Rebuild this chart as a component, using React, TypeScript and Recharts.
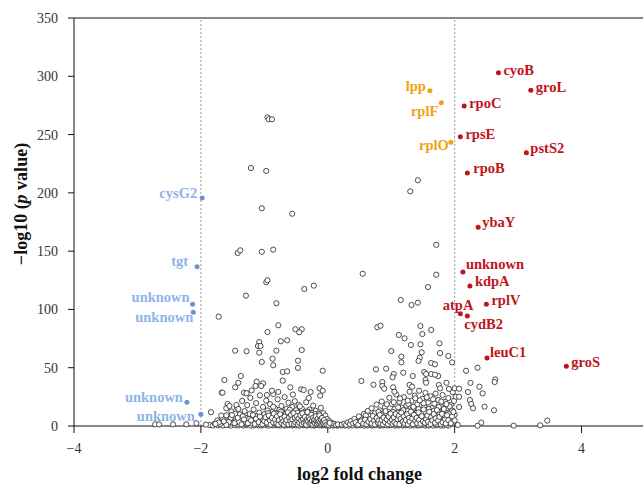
import { ScatterChart, Scatter, XAxis, YAxis, ReferenceLine } from "recharts";

const FONT = "'Liberation Serif', 'DejaVu Serif', serif";

// labelled genes
const upGenes = ["cyoB", "groL", "rpoC", "rpsE", "pstS2", "rpoB", "ybaY", "unknown", "kdpA", "rplV", "atpA", "cydB2", "leuC1", "groS"];
const upX = [2.69, 3.2, 2.15, 2.09, 3.13, 2.2, 2.37, 2.13, 2.24, 2.5, 2.09, 2.2, 2.51, 3.76];
const upY = [303.1, 288, 274.5, 248.2, 234.5, 217, 170.5, 132.1, 120.1, 104.4, 96.3, 94.4, 58.3, 51.2];

const ribGenes = ["lpp", "rplF", "rplO"];
const ribX = [1.61, 1.79, 1.94];
const ribY = [287.6, 277.3, 243.4];

const downGenes = ["cysG2", "tgt", "unknown", "unknown", "unknown", "unknown"];
const downX = [-1.98, -2.06, -2.13, -2.12, -2.22, -2.0];
const downY = [195.6, 136.7, 104.4, 97.5, 20.3, 10.0];

// not significant genes
const highNS: [number, number][] = [
  [-0.95, 264.8], [-0.93, 263.1], [-0.88, 263.1], [-1.21, 221.3], [-0.97, 218.8], [-1.04, 186.8], [-0.56, 182.1],
  [-1.42, 148.4], [-1.38, 150.7], [-1.04, 149.5], [-0.86, 151.3], [0.55, 130.6], [1.42, 210.8], [1.3, 201.3],
  [1.71, 155.4], [1.71, 129.8], [1.58, 119.2], [1.15, 108.1], [1.32, 103.8], [1.42, 105.8],
  [-1.72, 93.8], [-0.81, 105.3], [-1.29, 111.8], [-0.37, 117.5], [-0.22, 120.4], [-0.97, 123.3], [-0.95, 125.0],
];

const leftMid: [number, number][] = [
  [-0.78, 86.4], [-0.95, 80.6], [-0.51, 83.0], [-0.41, 83.0], [-0.45, 80.4], [-0.74, 72.7], [-0.64, 73.5],
  [-1.08, 72.0], [-1.1, 68.6], [-1.06, 68.6], [-1.46, 64.6], [-1.28, 64.1], [-0.81, 64.6], [-0.41, 65.2],
  [-1.08, 62.9], [-0.87, 57.7], [-1.04, 54.9], [-0.47, 56.0], [-0.86, 52.1], [-0.47, 49.8], [-0.71, 46.3],
  [-0.64, 46.9], [-0.08, 47.4], [-1.63, 39.5], [-1.37, 42.9], [-1.41, 37.1], [-1.46, 33.2], [-1.67, 28.6],
  [-1.12, 38.0], [-1.02, 36.6], [-1.14, 34.3], [-1.05, 34.3], [-0.71, 38.9], [-0.59, 33.2], [-0.88, 30.3],
  [-0.78, 29.2], [-0.42, 31.5], [-0.38, 30.9], [-0.27, 29.2], [-0.13, 32.3], [-0.08, 30.3], [-1.32, 28.6],
  [-1.28, 28.1], [-0.96, 26.6], [-1.58, 18.9], [-1.6, 15.2], [-1.55, 17.2], [-1.44, 18.0], [-1.41, 14.6],
  [-1.84, 11.8], [-1.66, 28.6], [-0.12, 26.0], [-0.3, 24.0], [-0.55, 27.0], [-1.2, 30.5],
];

const rightMid: [number, number][] = [
  [0.78, 84.7], [0.83, 86.0], [1.46, 85.8], [1.49, 78.9], [1.63, 82.4], [1.12, 78.1], [1.21, 75.2], [1.31, 69.5],
  [1.46, 70.1], [1.76, 70.9], [1.0, 64.3], [1.48, 63.2], [1.77, 62.6], [1.16, 59.5], [1.45, 58.6], [1.9, 60.0],
  [1.16, 54.6], [1.43, 55.8], [1.63, 54.0], [1.96, 54.6], [1.69, 52.9], [0.76, 48.6], [0.92, 49.2], [1.04, 44.6],
  [1.19, 45.7], [1.52, 46.3], [1.55, 44.6], [1.74, 42.9], [1.02, 41.8], [1.34, 42.9], [1.63, 44.6], [1.69, 44.0],
  [0.53, 38.6], [0.72, 35.4], [0.86, 37.7], [0.86, 34.3], [0.89, 32.0], [1.03, 33.2], [1.05, 29.4], [1.29, 35.2],
  [1.33, 33.7], [1.54, 39.5], [1.55, 37.1], [1.75, 35.2], [1.77, 32.3], [1.87, 37.1], [2.0, 32.3], [2.02, 25.1],
  [2.18, 47.4], [2.36, 50.0], [2.64, 40.0], [2.63, 37.7], [2.25, 37.0], [2.39, 33.7], [2.21, 29.2], [2.44, 28.0],
  [2.07, 32.0], [2.07, 25.1], [2.24, 22.3], [2.26, 18.9], [2.29, 15.2], [2.07, 16.3], [2.47, 16.6], [2.62, 13.5],
  [2.05, 0.9], [2.36, 0.2], [2.42, 2.9], [2.93, 0.3], [3.35, 0.6], [3.46, 4.6],
];

const outerLeft: [number, number][] = [
  [-2.72, 1.4], [-2.66, 1.4], [-2.44, 1.4], [-2.23, 1.4], [-2.07, 2.3], [-1.92, 1.2], [-1.77, 1.8],
];

const leftCloud: [number, number][] = [
  [-1.78, 2.1], [-1.74, 4.8], [-1.7, 1.5], [-1.66, 6.2], [-1.62, 3.0], [-1.6, 9.1], [-1.57, 1.2], [-1.55, 5.5],
  [-1.52, 12.4], [-1.5, 2.7], [-1.48, 7.8], [-1.45, 4.1], [-1.43, 15.8], [-1.41, 1.9], [-1.39, 9.9], [-1.37, 5.2],
  [-1.35, 21.5], [-1.33, 3.4], [-1.31, 12.8], [-1.3, 7.1], [-1.28, 1.6], [-1.27, 17.9], [-1.25, 4.6], [-1.23, 10.3],
  [-1.22, 24.1], [-1.2, 2.2], [-1.19, 6.8], [-1.17, 14.2], [-1.16, 3.9], [-1.14, 8.7], [-1.13, 19.6], [-1.11, 1.4],
  [-1.1, 5.7], [-1.08, 11.5], [-1.07, 26.3], [-1.05, 3.1], [-1.04, 7.9], [-1.02, 16.4], [-1.01, 2.5], [-1.0, 10.1],
  [-0.99, 5.0], [-0.97, 21.8], [-0.96, 1.8], [-0.95, 13.3], [-0.94, 7.2], [-0.92, 3.6], [-0.91, 18.7], [-0.9, 9.4],
  [-0.89, 1.3], [-0.88, 5.9], [-0.87, 12.1], [-0.86, 27.5], [-0.85, 3.8], [-0.84, 8.3], [-0.83, 15.1], [-0.82, 2.0],
  [-0.81, 6.6], [-0.8, 10.8], [-0.79, 22.9], [-0.78, 4.4], [-0.77, 1.5], [-0.76, 13.9], [-0.75, 7.5], [-0.74, 3.2],
  [-0.73, 17.2], [-0.72, 9.8], [-0.71, 5.3], [-0.7, 1.9], [-0.69, 11.7], [-0.68, 24.8], [-0.67, 4.0], [-0.66, 7.7],
  [-0.65, 14.6], [-0.64, 2.6], [-0.63, 9.1], [-0.62, 19.9], [-0.61, 5.6], [-0.6, 1.2], [-0.59, 12.6], [-0.58, 3.5],
  [-0.57, 8.0], [-0.56, 16.3], [-0.55, 6.1], [-0.54, 2.3], [-0.53, 10.4], [-0.52, 21.2], [-0.51, 4.7], [-0.5, 13.5],
  [-0.49, 1.7], [-0.48, 7.3], [-0.47, 3.0], [-0.46, 18.1], [-0.45, 9.6], [-0.44, 5.4], [-0.43, 11.9], [-0.42, 2.1],
  [-0.41, 15.0], [-0.4, 6.9], [-0.39, 3.7], [-0.38, 8.8], [-0.37, 1.4], [-0.36, 12.3], [-0.35, 4.9], [-0.34, 20.4],
  [-0.33, 7.0], [-0.32, 2.8], [-0.31, 10.0], [-0.3, 5.2], [-0.29, 14.1], [-0.28, 1.6], [-0.27, 8.4], [-0.26, 3.3],
  [-0.25, 11.2], [-0.24, 6.3], [-0.23, 17.5], [-0.22, 2.4], [-0.21, 9.0], [-0.2, 4.5], [-0.19, 13.0], [-0.18, 1.1],
  [-0.17, 6.7], [-0.16, 3.0], [-0.15, 10.6], [-0.14, 5.1], [-0.13, 2.0], [-0.12, 8.1], [-0.11, 15.6], [-0.1, 3.9],
  [-0.09, 1.3], [-0.08, 6.4], [-0.07, 11.0], [-0.06, 2.6], [-0.05, 4.4], [-0.04, 8.9], [-0.03, 1.8], [-0.02, 3.5],
  [-0.01, 6.0], [0.0, 2.2], [0.02, 4.1], [0.04, 1.5], [0.06, 2.8], [0.08, 1.0], [0.1, 1.9], [0.13, 0.8], [0.16, 1.4],
  [-0.98, 3.0], [-0.93, 6.0], [-0.88, 2.8], [-0.84, 4.9], [-0.8, 1.0], [-0.76, 6.0], [-0.72, 2.2], [-0.7, 8.5],
  [-0.67, 1.6], [-0.64, 5.7], [-0.61, 3.6], [-0.58, 6.6], [-0.55, 1.0], [-0.52, 3.8], [-0.5, 9.2], [-0.47, 5.9],
  [-0.44, 2.4], [-0.42, 7.4], [-0.39, 1.0], [-0.37, 5.6], [-0.34, 2.5], [-0.32, 9.6], [-0.3, 1.2], [-0.27, 4.3],
  [-0.25, 2.0], [-0.22, 6.1], [-0.2, 1.0], [-0.17, 4.0], [-0.14, 7.5], [-0.12, 1.0], [-0.09, 4.8], [-0.06, 1.0],
  [-1.12, 4.0], [-1.06, 1.2], [-1.02, 5.8], [-1.18, 9.4], [-1.24, 6.0], [-1.29, 3.0], [-1.34, 8.2], [-1.4, 3.5],
  [-1.46, 10.5], [-1.53, 6.8], [-0.94, 11.0], [-0.86, 16.5], [-0.78, 8.2], [-0.74, 12.2], [-0.66, 10.5], [-0.6, 14.0],
  [-0.54, 8.6], [-0.48, 11.4], [-0.44, 16.8], [-0.38, 11.5], [-0.31, 12.4], [-0.26, 7.0], [-0.2, 10.2], [-0.16, 8.8],
];

const leftCore: [number, number][] = [
  [-1.26, 2.4], [-1.21, 4.9], [-1.15, 1.8], [-1.13, 6.2], [-1.09, 3.3], [-1.07, 8.1], [-1.03, 1.5], [-1.0, 4.2],
  [-0.98, 7.6], [-0.96, 2.9], [-0.93, 9.0], [-0.91, 4.6], [-0.9, 1.2], [-0.88, 7.0], [-0.86, 3.1], [-0.85, 10.6],
  [-0.83, 5.4], [-0.81, 2.3], [-0.8, 8.4], [-0.78, 1.2], [-0.77, 5.0], [-0.75, 10.1], [-0.73, 2.6], [-0.72, 6.5],
  [-0.7, 4.0], [-0.69, 1.0], [-0.68, 8.0], [-0.66, 2.9], [-0.65, 5.2], [-0.63, 11.8], [-0.62, 1.4], [-0.61, 7.2],
  [-0.59, 4.4], [-0.58, 9.4], [-0.57, 2.0], [-0.56, 5.8], [-0.54, 11.0], [-0.53, 1.6], [-0.52, 6.9], [-0.51, 3.1],
  [-0.49, 8.4], [-0.48, 4.5], [-0.47, 1.2], [-0.46, 6.4], [-0.45, 2.9], [-0.43, 9.2], [-0.42, 4.6], [-0.41, 1.6],
  [-0.4, 10.8], [-0.39, 6.0], [-0.38, 2.6], [-0.36, 7.8], [-0.35, 3.0], [-0.34, 1.0], [-0.33, 5.2], [-0.32, 11.9],
  [-0.31, 3.8], [-0.3, 7.4], [-0.29, 1.8], [-0.28, 5.7], [-0.27, 2.7], [-0.26, 9.6], [-0.25, 4.3], [-0.24, 1.3],
  [-0.23, 7.2], [-0.22, 3.4], [-0.21, 5.4], [-0.2, 2.0], [-0.19, 8.3], [-0.18, 4.6], [-0.17, 1.8], [-0.16, 6.0],
  [-0.15, 2.6], [-0.14, 4.0], [-0.13, 9.1], [-0.12, 3.0], [-0.11, 5.8], [-0.1, 1.7], [-0.09, 7.0], [-0.08, 3.2],
  [-0.07, 2.0], [-0.06, 5.2], [-0.05, 1.4], [-0.04, 3.0], [-0.02, 1.2], [0.01, 1.0], [0.03, 2.6], [-1.36, 1.4],
  [-1.32, 5.6], [-1.42, 7.0], [-1.47, 2.4], [-1.51, 9.4], [-1.56, 3.4], [-1.6, 1.0], [-1.64, 4.0], [-1.68, 9.0],
  [-1.72, 2.9],
];

const rightCloud: [number, number][] = [
  [0.22, 1.2], [0.26, 2.0], [0.29, 1.0], [0.32, 3.1], [0.35, 1.6], [0.37, 4.4], [0.4, 2.3], [0.42, 6.0],
  [0.45, 1.4], [0.47, 3.6], [0.49, 8.2], [0.51, 2.5], [0.53, 5.1], [0.55, 1.1], [0.57, 10.3], [0.58, 3.9],
  [0.6, 6.8], [0.62, 2.0], [0.63, 12.9], [0.65, 4.6], [0.66, 8.7], [0.68, 1.5], [0.69, 15.2], [0.71, 3.2],
  [0.72, 6.1], [0.74, 10.9], [0.75, 2.4], [0.77, 18.4], [0.78, 5.2], [0.79, 8.0], [0.81, 1.3], [0.82, 13.4],
  [0.84, 3.8], [0.85, 21.0], [0.86, 6.9], [0.88, 10.2], [0.89, 2.7], [0.9, 16.1], [0.92, 4.9], [0.93, 8.5],
  [0.94, 1.9], [0.96, 12.0], [0.97, 24.2], [0.98, 6.3], [1.0, 3.1], [1.01, 18.9], [1.02, 9.3], [1.04, 5.0],
  [1.05, 14.4], [1.06, 1.6], [1.08, 27.1], [1.09, 7.2], [1.1, 11.6], [1.12, 3.5], [1.13, 20.8], [1.14, 8.4],
  [1.16, 15.9], [1.17, 5.6], [1.18, 1.2], [1.2, 24.7], [1.21, 10.4], [1.22, 3.9], [1.24, 17.6], [1.25, 6.9],
  [1.26, 12.8], [1.28, 2.4], [1.29, 29.4], [1.3, 9.0], [1.32, 21.6], [1.33, 4.8], [1.34, 14.9], [1.36, 7.7],
  [1.37, 26.0], [1.38, 1.8], [1.4, 11.3], [1.41, 18.5], [1.42, 5.4], [1.44, 30.2], [1.45, 8.9], [1.46, 13.7],
  [1.48, 3.0], [1.49, 23.4], [1.5, 10.8], [1.52, 16.7], [1.53, 6.2], [1.54, 28.3], [1.56, 1.4], [1.57, 12.5],
  [1.58, 20.1], [1.6, 4.5], [1.61, 9.7], [1.62, 25.5], [1.64, 15.3], [1.65, 7.0], [1.66, 2.5], [1.68, 19.2],
  [1.69, 11.9], [1.7, 27.8], [1.72, 5.8], [1.73, 14.0], [1.74, 22.3], [1.76, 3.4], [1.77, 9.2], [1.78, 17.0],
  [1.8, 6.5], [1.81, 26.6], [1.82, 12.2], [1.84, 1.9], [1.85, 20.7], [1.86, 8.1], [1.88, 15.5], [1.89, 4.2],
  [1.9, 24.0], [1.92, 10.7], [1.93, 2.9], [1.94, 18.0], [1.95, 6.8], [1.96, 13.2], [1.98, 3.6], [1.99, 21.5],
  [2.0, 9.5], [1.97, 29.0], [1.91, 31.8],
  [0.7, 1.0], [0.76, 3.0], [0.83, 1.0], [0.87, 4.0], [0.91, 1.0], [0.95, 3.0], [0.99, 1.0], [1.03, 2.6],
  [1.07, 4.2], [1.11, 1.0], [1.15, 3.0], [1.19, 6.5], [1.23, 1.0], [1.27, 4.6], [1.31, 2.2], [1.35, 6.0],
  [1.39, 3.6], [1.43, 1.0], [1.47, 5.9], [1.51, 2.1], [1.55, 8.0], [1.59, 1.0], [1.63, 4.0], [1.67, 6.9],
  [1.71, 1.5], [1.75, 11.0], [1.79, 3.0], [1.83, 5.0], [1.87, 1.0], [1.03, 12.0], [1.11, 16.0], [1.19, 13.5],
  [1.27, 19.0], [1.35, 16.5], [1.43, 14.5], [1.51, 19.5], [1.59, 14.6], [1.67, 13.0], [1.75, 16.3], [1.83, 9.6],
  [0.92, 11.0], [0.8, 12.0], [0.6, 9.0], [1.23, 8.0], [1.39, 9.6], [1.55, 11.4], [1.71, 8.5],
];

const rightCore: [number, number][] = [
  [0.44, 3.2], [0.48, 1.2], [0.52, 4.0], [0.56, 2.2], [0.59, 5.4], [0.61, 1.5], [0.64, 3.6], [0.67, 6.0],
  [0.69, 2.2], [0.71, 8.6], [0.73, 4.6], [0.74, 1.4], [0.77, 6.8], [0.79, 2.9], [0.8, 4.7], [0.82, 9.6],
  [0.83, 2.2], [0.85, 5.2], [0.87, 1.4], [0.88, 7.2], [0.9, 3.4], [0.91, 12.8], [0.93, 5.5], [0.95, 1.5],
  [0.96, 8.1], [0.98, 3.6], [0.99, 10.6], [1.01, 5.4], [1.02, 1.8], [1.04, 7.6], [1.05, 3.2], [1.07, 10.2],
  [1.08, 2.0], [1.1, 5.8], [1.12, 8.6], [1.13, 1.6], [1.15, 6.2], [1.16, 11.5], [1.18, 3.6], [1.2, 8.2],
  [1.21, 2.0], [1.23, 5.2], [1.25, 10.0], [1.26, 1.4], [1.28, 7.0], [1.29, 3.8], [1.31, 12.4], [1.33, 6.4],
  [1.34, 1.6], [1.36, 9.6], [1.38, 4.4], [1.4, 7.0], [1.41, 2.4], [1.43, 11.6], [1.44, 5.2], [1.46, 1.8],
  [1.48, 8.4], [1.5, 4.0], [1.51, 14.2], [1.53, 2.8], [1.55, 6.0], [1.57, 9.0], [1.58, 3.6], [1.6, 12.2],
  [1.62, 1.8], [1.63, 7.6], [1.65, 4.8], [1.67, 10.2], [1.69, 2.8], [1.7, 6.6], [1.72, 13.6], [1.74, 4.6],
  [1.76, 7.8], [1.78, 1.6], [1.8, 10.4], [1.81, 3.2], [1.83, 14.6], [1.85, 5.6], [1.86, 2.2], [1.88, 9.2],
  [1.9, 5.0], [1.92, 16.8], [1.94, 2.4], [1.96, 8.2], [1.98, 12.0], [2.0, 4.8], [1.87, 18.8], [1.79, 21.0],
  [1.66, 23.0], [1.56, 24.6], [1.45, 22.0], [1.38, 23.8], [1.26, 21.8], [1.14, 23.6], [1.04, 20.4], [0.93, 18.6],
];

const baseRow: [number, number][] = [
  [-1.86, 0.8], [-1.81, 0.5], [-1.73, 0.6], [-1.65, 0.4], [-1.58, 0.9], [-1.53, 0.3], [-1.46, 0.7], [-1.41, 0.5],
  [-1.33, 0.4], [-1.28, 0.8], [-1.21, 0.3], [-1.16, 0.6], [-1.09, 0.5], [-1.04, 0.4], [-0.97, 0.7], [-0.93, 0.3],
  [-0.86, 0.5], [-0.8, 0.6], [-0.75, 0.4], [-0.68, 0.3], [-0.63, 0.6], [-0.56, 0.4], [-0.5, 0.5], [-0.45, 0.3],
  [-0.38, 0.6], [-0.33, 0.4], [-0.26, 0.5], [-0.21, 0.3], [-0.14, 0.6], [-0.09, 0.4], [-0.03, 0.5], [0.03, 0.3],
  [0.09, 0.4], [0.15, 0.3], [0.21, 0.5], [0.27, 0.4], [0.33, 0.3], [0.39, 0.5], [0.46, 0.4], [0.51, 0.6],
  [0.58, 0.3], [0.63, 0.5], [0.7, 0.4], [0.75, 0.6], [0.82, 0.3], [0.87, 0.5], [0.94, 0.4], [0.99, 0.6],
  [1.06, 0.3], [1.11, 0.5], [1.18, 0.4], [1.23, 0.6], [1.3, 0.3], [1.35, 0.5], [1.42, 0.4], [1.47, 0.6],
  [1.54, 0.3], [1.59, 0.5], [1.66, 0.4], [1.71, 0.6], [1.78, 0.3], [1.83, 0.5], [1.9, 0.4],
];

const xTicks = [-4, -2, 0, 2, 4];
const yTicks = [0, 50, 100, 150, 200, 250, 300, 350];

const nsData = [...baseRow, ...leftCloud, ...leftCore, ...rightCloud, ...rightCore, ...leftMid, ...rightMid, ...outerLeft, ...highNS]
  .map(([x, y]) => ({ x, y }));
const mk = (names: string[], xs: number[], ys: number[]) => names.map((name, i) => ({ name, i, x: xs[i], y: ys[i] }));
const upData = mk(upGenes, upX, upY);
const ribData = mk(ribGenes, ribX, ribY);
const downData = mk(downGenes, downX, downY);

// label offsets from dot: [dx, dy, anchor]
const UP_POS: [number, number, string][] = [
  [5, 2, "start"], [5, 2, "start"], [5, 2, "start"], [5, 2, "start"], [4, 0, "start"], [6, 0, "start"], [4, 0, "start"],
  [3, -3, "start"], [5, 0, "start"], [5, 1, "start"], [13, -4, "end"], [-3, 13, "start"], [3, -1, "start"], [5, 1, "start"],
];
const RIB_POS: [number, number, string][] = [[-4, 0, "end"], [-3, 13, "end"], [-2, 8, "end"]];
const DOWN_POS: [number, number, string][] = [[-5, 0, "end"], [-9, -1, "end"], [-3, -2, "end"], [0, 10, "end"], [-4, 0, "end"], [-6, 7, "end"]];

const RED = "#c0141c";
const ORANGE = "#f0a20f";

function OpenDot(p: any) {
  return <circle cx={p.cx} cy={p.cy} r={2.6} fill="#fff" stroke="#2e2e2e" strokeWidth={0.85} />;
}

function labelled(dot: string, txt: string, pos: [number, number, string][]) {
  return (p: any) => {
    const [dx, dy, anchor] = pos[p.payload.i];
    return (
      <g>
        <circle cx={p.cx} cy={p.cy} r={2.5} fill={dot} />
        <text x={p.cx + dx} y={p.cy + dy} textAnchor={anchor} fill={txt} fontSize={14.5} fontWeight="bold" fontFamily={FONT}>{p.payload.name}</text>
      </g>
    );
  };
}

const fmt = (v: number) => (v < 0 ? "\u2212" + Math.abs(v) : String(v));

function YTitle(props: any) {
  const vb = props.viewBox || { x: 0, y: 18, width: 74, height: 408 };
  const cx = vb.x + 21;
  const cy = vb.y + vb.height / 2 - 18;
  return (
    <text x={cx} y={cy} transform={`rotate(-90 ${cx} ${cy})`} textAnchor="middle" dominantBaseline="central"
      fontFamily={FONT} fontSize={18} fontWeight="bold" fill="#111">
      {"\u2212log10 ("}<tspan fontStyle="italic">p</tspan>{" value)"}
    </text>
  );
}

export default function App() {
  return (
    <div style={{ position: "absolute", left: 0, top: 0, width: 643, height: 485, overflow: "hidden", background: "#fff", fontFamily: FONT }}>
      <style>{`.recharts-wrapper text { font-family: 'Liberation Serif', serif; }`}</style>
      <ScatterChart width={645} height={485} margin={{ top: 18, right: 0, bottom: 0, left: 0 }}>
        <XAxis type="number" dataKey="x" domain={[-4, 5]} ticks={xTicks} tickFormatter={fmt} height={59}
          tickSize={7} tickMargin={10} stroke="#111" tick={{ fill: "#333", fontSize: 14 }}
          label={{ value: "log2 fold change", position: "insideBottom", offset: 5, fontSize: 18, fontWeight: "bold", fill: "#111" }} />
        <YAxis type="number" dataKey="y" domain={[0, 350]} ticks={yTicks} width={74}
          tickSize={6} tickMargin={10} stroke="#111" tick={{ fill: "#333", fontSize: 14 }}
          label={(p: any) => <YTitle {...p} />} />
        <ReferenceLine y={350} stroke="#111" strokeWidth={1} />
        <ReferenceLine x={-2} stroke="#9a9a9a" strokeDasharray="2 2" />
        <ReferenceLine x={2} stroke="#9a9a9a" strokeDasharray="2 2" />
        <Scatter data={nsData} shape={OpenDot} isAnimationActive={false} />
        <Scatter data={downData} shape={labelled("#6b93d6", "#8fb3ea", DOWN_POS)} isAnimationActive={false} />
        <Scatter data={ribData} shape={labelled(ORANGE, ORANGE, RIB_POS)} isAnimationActive={false} />
        <Scatter data={upData} shape={labelled(RED, RED, UP_POS)} isAnimationActive={false} />
      </ScatterChart>
    </div>
  );
}
